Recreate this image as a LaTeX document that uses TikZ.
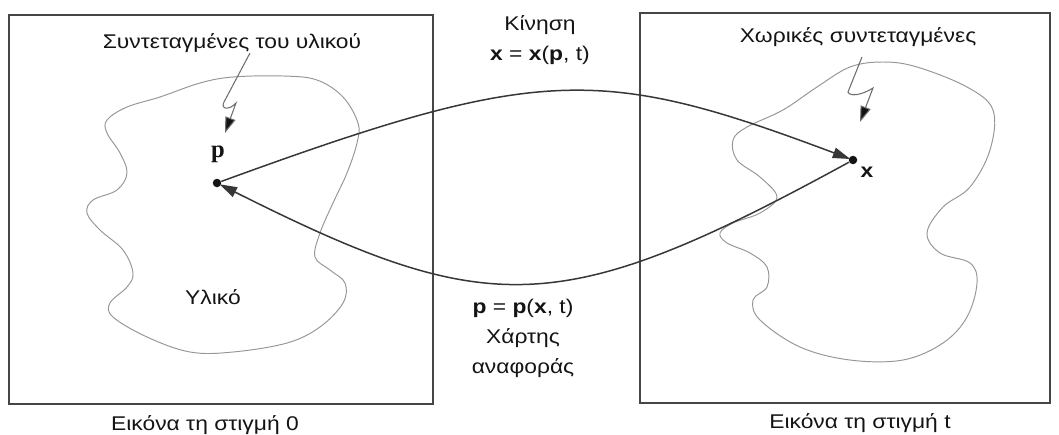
\documentclass[tikz,border=0pt]{standalone}
\usepackage{fontspec}
\setmainfont{Liberation Sans}[FakeStretch=1.15]
\newfontfamily\pfont{Liberation Serif}
\usetikzlibrary{
    arrows.meta,
    positioning
}
\definecolor{ink}{RGB}{20,20,20}
\definecolor{frame}{RGB}{70,70,70}
\definecolor{bodyline}{RGB}{150,150,150}
\definecolor{pointer}{RGB}{110,110,110}
\tikzset{
    line cap=round,
    line join=round,
    panel/.style={
        draw=frame,
        line width=1.1pt
    },
    body/.style={
        draw=bodyline,
        line width=0.55pt
    },
    dot/.style={
        circle,
        fill=ink,
        inner sep=0pt,
        minimum size=0.17cm
    },
    mapping/.style={
        -{Triangle[length=10pt,width=6pt]},
        draw=ink!85,
        line width=0.85pt,
        shorten >=-1pt
    },
    pointerarrow/.style={
        -{Triangle[length=9pt,width=6pt,fill=ink]},
        draw=pointer,
        line width=0.6pt
    },
    label/.style={
        font=\fontsize{11.3}{17}\selectfont,
        text=ink,
        align=center
    },
    caption/.style={
        label
    }
}

\begin{document}
\begin{tikzpicture}[x=0.02cm, y=-0.02cm]
    \useasboundingbox (0,0) rectangle (1059,434);

    % Frames
    \draw[panel] (9,15) rectangle (433,404);
    \draw[panel] (640,13) rectangle (1050,403);

    % Material body (time 0)
    \draw[body] plot[smooth cycle, tension=0.6] coordinates {
        (107,120) (127,107) (160,97) (200,83) (233,77) (283,76) (317,80)
        (343,97) (358,123) (357,143) (347,173) (333,203) (320,233) (315,257)
        (330,270) (345,283) (343,303) (320,327) (287,343) (233,352) (190,352)
        (147,337) (113,317) (110,303) (127,287) (133,273) (123,250) (100,230)
        (87,213) (93,200) (117,190) (127,173) (120,153) (107,133)};

    % Spatial body (time t)
    \draw[body] plot[smooth cycle, tension=0.6] coordinates {
        (733,140) (747,127) (783,110) (817,87) (850,67) (883,62) (917,67)
        (967,87) (993,110) (990,150) (970,187) (943,207) (927,233) (940,253)
        (970,263) (977,283) (967,317) (943,343) (903,360) (850,360) (800,347)
        (760,320) (753,300) (767,287) (767,267) (750,253) (727,243) (720,233)
        (733,223) (760,213) (777,197) (760,177) (737,160)};

    % Points
    \node[dot] (pdot) at (217,183) {};
    \node[dot] (xdot) at (853,160) {};
    \node[label, font=\pfont\bfseries\fontsize{14}{15}\selectfont] (plabel) at (218,154) {p};
    \node[label, font=\bfseries\fontsize{11.3}{13}\selectfont] (xlabel) at (867,172) {x};

    % Labels
    \node[label] (matcoords) at (232,43) {Συντεταγμένες του υλικού};
    \node[label] (spacecoords) at (858,37) {Χωρικές συντεταγμένες};
    \node[label] (material) at (213,297) {Υλικό};
    \node[label] (motion) at (540,40) {Κίνηση\\\textbf{x} = \textbf{x}(\textbf{p}, t)};
    \node[label] (refmap) at (523,338) {\textbf{p} = \textbf{p}(\textbf{x}, t)\\Χάρτης\\αναφοράς};
    \node[caption] (cap0) at (205,425) {Εικόνα τη στιγμή 0};
    \node[caption] (capt) at (860,423) {Εικόνα τη στιγμή t};

    % Pointers to the points
    \coordinate (ptip) at (225,133);
    \coordinate (xtip) at (860,122);
    \draw[pointerarrow] (250,53) -- (224,102) .. controls (220,110) and (230,110) .. (236,103) -- (ptip);
    \draw[pointerarrow] (862,57) -- (848,92) .. controls (850,97) and (862,95) .. (873,88) -- (xtip);

    % Motion and reference map
    \draw[mapping] (pdot) .. controls (540,65) and (600,65) .. (xdot);
    \draw[mapping] (xdot) .. controls (560,320) and (490,320) .. (pdot);

\end{tikzpicture}
\end{document}
